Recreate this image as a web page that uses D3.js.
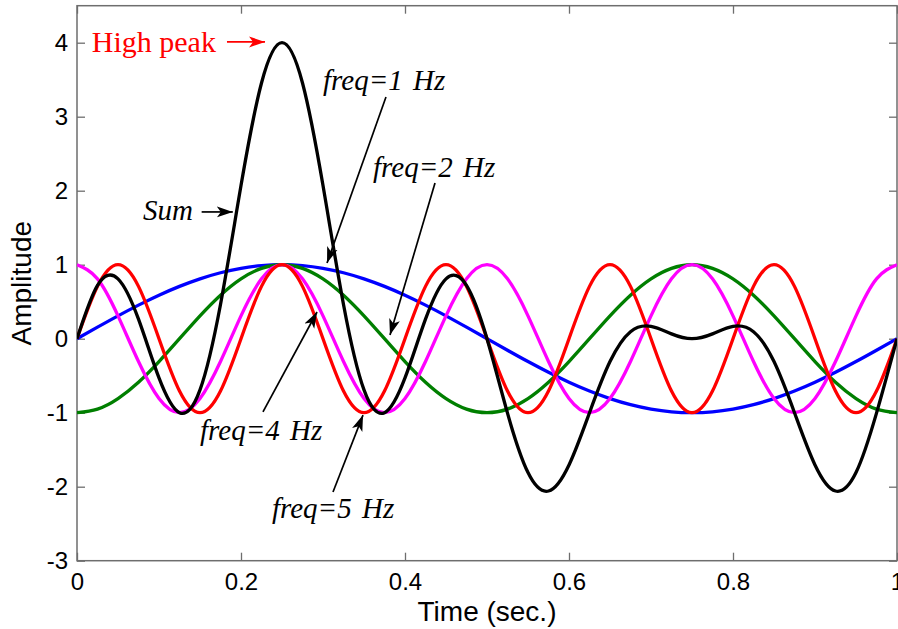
<!DOCTYPE html>
<html>
<head>
<meta charset="utf-8">
<script src="https://cdn.jsdelivr.net/npm/d3@7"></script>
<style>
  body { margin: 0; background: #fff; }
  svg { display: block; }
</style>
</head>
<body>
<svg id="chart" width="898" height="629"></svg>
<script>
// sample times (sec.) and the values
const time = [0, 0.025, 0.05, 0.075, 0.1, 0.125, 0.15, 0.175, 0.2, 0.225,
  0.25, 0.275, 0.3, 0.325, 0.35, 0.375, 0.4, 0.425, 0.45, 0.475,
  0.5, 0.525, 0.55, 0.575, 0.6, 0.625, 0.65, 0.675, 0.7, 0.725,
  0.75, 0.775, 0.8, 0.825, 0.85, 0.875, 0.9, 0.925, 0.95, 0.975, 1];

const freq1 = [0, 0.156, 0.309, 0.454, 0.588, 0.707, 0.809, 0.891, 0.951, 0.988,
  1, 0.988, 0.951, 0.891, 0.809, 0.707, 0.588, 0.454, 0.309, 0.156,
  0, -0.156, -0.309, -0.454, -0.588, -0.707, -0.809, -0.891, -0.951, -0.988,
  -1, -0.988, -0.951, -0.891, -0.809, -0.707, -0.588, -0.454, -0.309, -0.156, 0];

const freq2 = [-1, -0.951, -0.809, -0.588, -0.309, 0, 0.309, 0.588, 0.809, 0.951,
  1, 0.951, 0.809, 0.588, 0.309, 0, -0.309, -0.588, -0.809, -0.951,
  -1, -0.951, -0.809, -0.588, -0.309, 0, 0.309, 0.588, 0.809, 0.951,
  1, 0.951, 0.809, 0.588, 0.309, 0, -0.309, -0.588, -0.809, -0.951, -1];

const freq4 = [1, 0.809, 0.309, -0.309, -0.809, -1, -0.809, -0.309, 0.309, 0.809,
  1, 0.809, 0.309, -0.309, -0.809, -1, -0.809, -0.309, 0.309, 0.809,
  1, 0.809, 0.309, -0.309, -0.809, -1, -0.809, -0.309, 0.309, 0.809,
  1, 0.809, 0.309, -0.309, -0.809, -1, -0.809, -0.309, 0.309, 0.809, 1];

const freq5 = [0, 0.707, 1, 0.707, 0, -0.707, -1, -0.707, 0, 0.707,
  1, 0.707, 0, -0.707, -1, -0.707, 0, 0.707, 1, 0.707,
  0, -0.707, -1, -0.707, 0, 0.707, 1, 0.707, 0, -0.707,
  -1, -0.707, 0, 0.707, 1, 0.707, 0, -0.707, -1, -0.707, 0];

const sumWave = [0, 0.721, 0.809, 0.264, -0.530, -1, -0.691, 0.463, 2.069, 3.455,
  4, 3.455, 2.069, 0.463, -0.691, -1, -0.530, 0.264, 0.809, 0.721,
  0, -1.006, -1.809, -2.058, -1.706, -1, -0.309, 0.095, 0.167, 0.065,
  0, 0.065, 0.167, 0.095, -0.309, -1, -1.706, -2.058, -1.809, -1.006, 0];

const seriesNames = ["freq1", "freq2", "freq4", "freq5", "sum"];
const seriesValues = [freq1, freq2, freq4, freq5, sumWave];
const seriesColors = ["#0000ff", "#007f00", "#ff00ff", "#ff0000", "#000000"];

const xTicks = [0, 0.2, 0.4, 0.6, 0.8, 1];
const yTicks = [-3, -2, -1, 0, 1, 2, 3, 4];

// annotations, positions in data units (time, amplitude)
const annoText = ["High peak", "freq=1 Hz", "freq=2 Hz", "Sum", "freq=4 Hz", "freq=5 Hz"];
const annoTextPos = [[0.018, 3.87], [0.300, 3.36], [0.361, 2.185], [0.0805, 1.604], [0.150, -1.369], [0.2378, -2.423]];
const annoFrom = [[0.1829, 4.01], [0.3768, 3.266], [0.4366, 2.104], [0.152, 1.713], [0.2268, -0.990], [0.3122, -2.072]];
const annoTo = [[0.2293, 4.01], [0.3049, 1.023], [0.3817, 0.051], [0.190, 1.713], [0.2927, 0.361], [0.3488, -1.032]];
const annoColor = ["#ff0000", "#000", "#000", "#000", "#000", "#000"];

const svg = d3.select("#chart");
const plotLeft = 77, plotRight = 897, plotTop = 5.7, plotBottom = 560.7;

const x = d3.scaleLinear().domain([0, 1]).range([plotLeft, plotRight]);
const y = d3.scaleLinear().domain([-3, 4.5]).range([plotBottom, plotTop]);

const axisColor = "#6e6e6e";

// axes, MATLAB style: ticks point inward, box all round
const gx = svg.append("g").attr("transform", `translate(0,${plotBottom})`)
  .call(d3.axisBottom(x).tickValues(xTicks).tickSizeInner(-8).tickSizeOuter(0).tickPadding(12).tickFormat(d => String(d)));
const gy = svg.append("g").attr("transform", `translate(${plotLeft},0)`)
  .call(d3.axisLeft(y).tickValues(yTicks).tickSizeInner(-8).tickSizeOuter(0).tickPadding(9).tickFormat(d => String(d)));
const gxTop = svg.append("g").attr("transform", `translate(0,${plotTop})`)
  .call(d3.axisTop(x).tickValues(xTicks).tickSizeInner(-8).tickSizeOuter(0).tickFormat(""));
const gyRight = svg.append("g").attr("transform", `translate(${plotRight},0)`)
  .call(d3.axisRight(y).tickValues(yTicks).tickSizeInner(-8).tickSizeOuter(0).tickFormat(""));

[gx, gy, gxTop, gyRight].forEach(g => {
  g.select(".domain").remove();
  g.selectAll(".tick line").attr("stroke", axisColor).attr("stroke-width", 1.3);
  g.selectAll(".tick text").attr("fill", "#000").attr("font-family", "Arial, 'Liberation Sans', sans-serif").attr("font-size", 24);
});

svg.append("rect")
  .attr("x", plotLeft).attr("y", plotTop).attr("width", plotRight - plotLeft).attr("height", plotBottom - plotTop)
  .attr("fill", "none").attr("stroke", axisColor).attr("stroke-width", 1.5);

// curves
const line = d3.line()
  .x((d, i) => x(time[i]))
  .y(d => y(d))
  .curve(d3.curveNatural);

const defs = svg.append("defs");
defs.append("clipPath").attr("id", "plotClip")
  .append("rect").attr("x", plotLeft).attr("y", plotTop).attr("width", plotRight - plotLeft).attr("height", plotBottom - plotTop);

svg.append("g").attr("clip-path", "url(#plotClip)")
  .selectAll("path").data(seriesValues).enter().append("path")
  .attr("class", (d, i) => "wave " + seriesNames[i])
  .attr("d", d => line(d))
  .attr("fill", "none")
  .attr("stroke", (d, i) => seriesColors[i])
  .attr("stroke-width", 3.3)
  .attr("stroke-linejoin", "round");

// axis titles
svg.append("text")
  .attr("x", (plotLeft + plotRight) / 2).attr("y", 621)
  .attr("text-anchor", "middle")
  .attr("font-family", "Arial, 'Liberation Sans', sans-serif").attr("font-size", 28)
  .text("Time (sec.)");

svg.append("text")
  .attr("transform", `translate(31,${(plotTop + plotBottom) / 2}) rotate(-90)`)
  .attr("text-anchor", "middle")
  .attr("font-family", "Arial, 'Liberation Sans', sans-serif").attr("font-size", 28)
  .text("Amplitude");

// arrow heads
["#000", "#ff0000"].forEach((c, k) => {
  defs.append("marker").attr("id", "head" + k)
    .attr("viewBox", "0 -6 16 12").attr("refX", 16).attr("refY", 0)
    .attr("markerWidth", 16).attr("markerHeight", 12)
    .attr("markerUnits", "userSpaceOnUse").attr("orient", "auto")
    .append("path").attr("d", "M0,-5.5 L16,0 L0,5.5 L4,0 Z").attr("fill", c);
});

const anno = svg.append("g").attr("class", "annotations");
annoText.forEach((t, i) => {
  const isPeak = i === 0;
  anno.append("line")
    .attr("x1", x(annoFrom[i][0])).attr("y1", y(annoFrom[i][1]))
    .attr("x2", x(annoTo[i][0])).attr("y2", y(annoTo[i][1]))
    .attr("stroke", annoColor[i]).attr("stroke-width", 1.7)
    .attr("marker-end", isPeak ? "url(#head1)" : "url(#head0)");
  anno.append("text")
    .attr("x", x(annoTextPos[i][0])).attr("y", y(annoTextPos[i][1]))
    .attr("font-family", "'Times New Roman', 'Liberation Serif', serif")
    .attr("font-size", isPeak ? 30 : 29)
    .attr("font-style", isPeak ? "normal" : "italic")
    .attr("word-spacing", isPeak ? 0 : 3)
    .attr("fill", annoColor[i])
    .text(t);
});
</script>
</body>
</html>
